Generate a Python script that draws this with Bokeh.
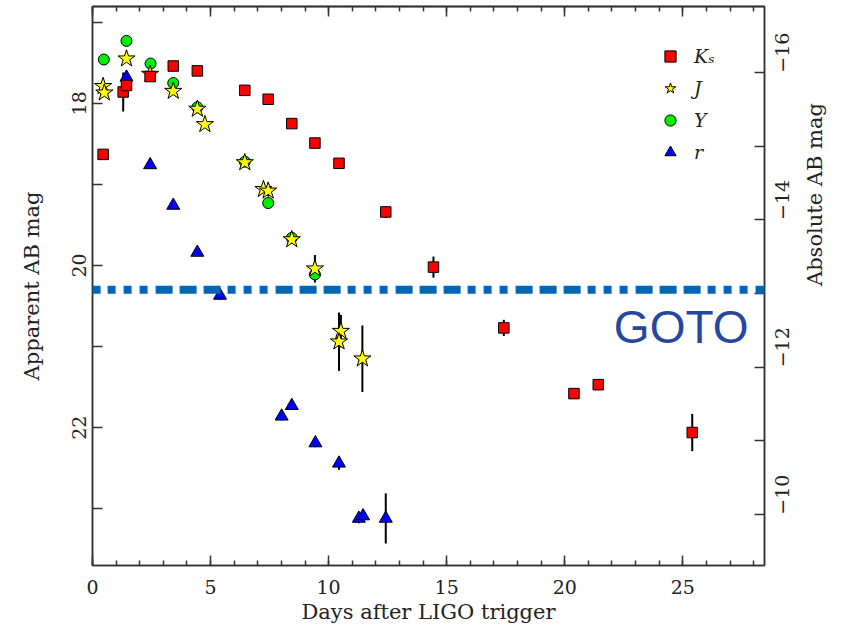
import math
from bokeh.plotting import figure
from bokeh.models import Range1d, LinearAxis, FixedTicker, Legend, LegendItem, Arrow, Label
from bokeh.embed import file_html
from bokeh.resources import INLINE
from bokeh.core.properties import value

# ---------------- data (days after trigger, apparent AB mag, error) ----------------
ks_day = [0.45, 1.30, 1.44, 2.44, 3.42, 4.44, 6.45, 7.44, 8.44, 9.42, 10.44, 12.42, 14.44, 17.42, 20.39, 21.42, 25.40]
ks_mag = [18.63, 17.86, 17.78, 17.67, 17.54, 17.60, 17.84, 17.95, 18.25, 18.49, 18.74, 19.34, 20.02, 20.77, 21.58, 21.47, 22.06]
ks_err = [0.03, 0.24, 0.05, 0.05, 0.03, 0.03, 0.03, 0.03, 0.03, 0.03, 0.04, 0.07, 0.13, 0.10, 0.05, 0.06, 0.23]

j_day = [0.45, 0.50, 1.44, 2.44, 3.42, 4.44, 4.76, 6.45, 7.24, 7.44, 8.44, 9.42, 10.52, 10.44, 11.43]
j_mag = [17.79, 17.87, 17.45, 17.64, 17.85, 18.07, 18.26, 18.73, 19.06, 19.08, 19.68, 20.04, 20.81, 20.94, 21.15]
j_err = [0.03, 0.03, 0.03, 0.03, 0.03, 0.03, 0.03, 0.03, 0.05, 0.05, 0.05, 0.17, 0.20, 0.36, 0.41]

y_day = [0.48, 1.44, 2.46, 3.42, 4.44, 6.45, 7.44, 8.44, 9.42]
y_mag = [17.46, 17.23, 17.51, 17.75, 18.05, 18.72, 19.23, 19.66, 20.11]

r_day = [1.44, 2.44, 3.42, 4.44, 5.40, 8.01, 8.44, 9.44, 10.44, 11.28, 11.46, 12.42]
r_mag = [17.68, 18.76, 19.26, 19.84, 20.37, 21.86, 21.73, 22.19, 22.44, 23.12, 23.09, 23.12]
r_err = [0.05, 0.04, 0.04, 0.04, 0.05, 0.05, 0.05, 0.05, 0.08, 0.06, 0.06, 0.31]

band_labels = ["K\u209b", "J", "Y", "r"]

x_major = [0, 5, 10, 15, 20, 25]
x_minor = list(range(0, 29))
app_major = [18, 20, 22]
app_minor = [17, 19, 21, 23]
abs_major = [-16, -14, -12, -10]
abs_minor = [-15, -13, -11]

goto_limit = 20.3
goto_span = [-2.41, 30.12]
goto_text = "GOTO"

# ---------------- figure ----------------
AX = "#333333"
SERIF = "DejaVu Serif"

p = figure(width=841, height=627,
           x_range=Range1d(0, 28.46), y_range=Range1d(23.70, 16.806),
           output_backend="svg", toolbar_location=None,
           min_border_left=92, min_border_right=75, min_border_top=6, min_border_bottom=62)
p.xgrid.visible = False
p.ygrid.visible = False
p.outline_line_color = AX
p.outline_line_width = 1.5
p.background_fill_color = "white"
p.border_fill_color = "white"

def style_axis(ax):
    ax.axis_line_color = AX
    ax.axis_line_width = 1.5
    ax.major_tick_line_color = AX
    ax.minor_tick_line_color = AX
    ax.major_tick_line_width = 1.5
    ax.minor_tick_line_width = 1.5
    ax.major_tick_out = 0
    ax.minor_tick_out = 0
    ax.major_label_text_font = SERIF
    ax.major_label_text_font_size = "19px"
    ax.major_label_text_color = "#222222"
    ax.axis_label_text_font = SERIF
    ax.axis_label_text_font_size = "21px"
    ax.axis_label_text_font_style = "normal"
    ax.axis_label_text_color = "#222222"

# bottom axis
xa = p.xaxis[0]
xa.ticker = FixedTicker(ticks=x_major, minor_ticks=x_minor)
style_axis(xa)
xa.major_tick_in = 10
xa.minor_tick_in = 5
xa.major_label_standoff = 14
xa.axis_label = "Days after LIGO trigger"
xa.axis_label_standoff = 3

# top: tick marks only (no labels) -> two label-less axes using minor ticks
xt_small = LinearAxis(ticker=FixedTicker(ticks=[], minor_ticks=x_minor))
style_axis(xt_small)
xt_small.minor_tick_in = 5
p.add_layout(xt_small, "above")
xt_big = LinearAxis(ticker=FixedTicker(ticks=[], minor_ticks=x_major))
style_axis(xt_big)
xt_big.minor_tick_in = 10
p.add_layout(xt_big, "above")

# left axis
ya = p.yaxis[0]
ya.ticker = FixedTicker(ticks=app_major, minor_ticks=app_minor)
style_axis(ya)
ya.major_tick_in = 10
ya.minor_tick_in = 10
ya.major_label_orientation = "vertical"
ya.major_label_standoff = 6
ya.axis_label = "Apparent AB mag"
ya.axis_label_standoff = 26

# right axis (absolute mag)
p.extra_y_ranges = {"abs": Range1d(start=-9.31, end=-16.898)}
yr = LinearAxis(y_range_name="abs", ticker=FixedTicker(ticks=abs_major, minor_ticks=abs_minor))
style_axis(yr)
yr.major_tick_in = 10
yr.minor_tick_in = 10
yr.major_label_orientation = math.pi / 2
yr.major_label_standoff = 18
yr.major_label_overrides = {v: "\u2212" + str(abs(v)) for v in abs_major}
yr.axis_label = "Absolute AB mag"
yr.axis_label_standoff = 15
if "axis_label_orientation" in LinearAxis.properties():
    yr.axis_label_orientation = math.pi / 2
p.add_layout(yr, "right")

# ---------------- error bars ----------------
def errbars(xs, ys, es):
    p.segment(x0=xs, x1=xs, y0=[m - e for m, e in zip(ys, es)], y1=[m + e for m, e in zip(ys, es)],
              line_color="black", line_width=2)

errbars(ks_day, ks_mag, ks_err)
errbars(j_day, j_mag, j_err)
errbars(r_day, r_mag, r_err)

# ---------------- markers ----------------
r_y = p.scatter(y_day, y_mag, marker="circle", size=11, fill_color="#00ee00", line_color="black", line_width=1)
r_j = p.scatter(j_day, j_mag, marker="star", size=18, fill_color="#ffff00", line_color="black", line_width=1)
r_r = p.scatter(r_day, r_mag, marker="triangle", size=13, fill_color="#0000ff", line_color="black", line_width=1)
r_k = p.scatter(ks_day, ks_mag, marker="square", size=10.5, fill_color="#ff0000", line_color="black", line_width=1)

legend = Legend(items=[LegendItem(label=band_labels[0], renderers=[r_k]),
                       LegendItem(label=band_labels[1], renderers=[r_j]),
                       LegendItem(label=band_labels[2], renderers=[r_y]),
                       LegendItem(label=band_labels[3], renderers=[r_r])],
                location=(564, 399), orientation="vertical",
                glyph_width=28, glyph_height=28, spacing=4, padding=0, margin=0,
                label_standoff=10, label_text_font=SERIF, label_text_font_style="italic",
                label_text_font_size="19px", label_text_color="#222222",
                border_line_alpha=0, background_fill_alpha=0)
p.add_layout(legend, "center")

# ---------------- GOTO limit ----------------
goto_line = Arrow(start=None, end=None, x_start=goto_span[0], y_start=goto_limit,
                  x_end=goto_span[1], y_end=goto_limit,
                  line_color="#0066b3", line_width=8, line_dash="17 7 17 7 17 7 8 8 8 8 8 8",
                  line_cap="butt")
p.add_layout(goto_line)

p.add_layout(Label(x=22.08, y=20.76, text=goto_text, text_font="Liberation Sans",
                   text_font_size="46px", text_color="#27479e", text_baseline="middle",
                   text_align="left"))

open("out.html", "w").write(file_html(p, INLINE))
